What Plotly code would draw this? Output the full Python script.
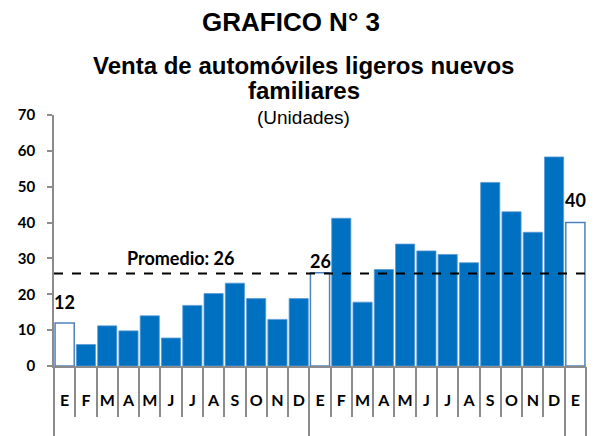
import plotly.graph_objects as go

# ---- data ----
meses = ["E", "F", "M", "A", "M", "J", "J", "A", "S", "O", "N", "D",
         "E", "F", "M", "A", "M", "J", "J", "A", "S", "O", "N", "D",
         "E"]
ventas = [12, 6, 11.2, 9.8, 14, 7.8, 16.9, 20.2, 23.1, 18.8, 13, 18.8,
          26, 41.2, 17.8, 26.9, 34, 32.1, 31.1, 28.8, 51.2, 43, 37.3, 58.3,
          40]
destacados = [0, 12, 24]          # indices of January bars (hollow, labelled)
etiquetas = ["12", "26", "40"]
promedio = 25.8
promedio_txt = "Promedio: 26"
y_ticks = [0, 10, 20, 30, 40, 50, 60, 70]

# ---- geometry helpers (page body has an 8px margin) ----
OFF = 8
W, H = 595 - OFF, 436 - OFF
ML, MR, MT, MB = 54 - OFF, 9, 115 - OFF, 70
PH = H - MT - MB
PW = W - ML - MR


def py2paper(py):          # screenshot y -> paper y
    return (H - MB - (py - OFF)) / PH


def px2paper(px):          # screenshot x -> paper x
    return (px - OFF - ML) / PW


n = len(meses)
xs = list(range(n))
fill = ["#FFFFFF" if i in destacados else "#0070C0" for i in xs]
line_c = ["#4F81BD" if i in destacados else "#5B9BD5" for i in xs]
line_w = [1.5 if i in destacados else 0.8 for i in xs]

GRAY = "#8C8C8C"
LBL = "Lato"
TTL = "Liberation Sans"

fig = go.Figure()
fig.add_trace(go.Bar(
    x=xs, y=ventas, marker=dict(color=fill, line=dict(color=line_c, width=line_w)),
    hoverinfo="skip", showlegend=False))
# helper invisible trace for the group-boundary axis
fig.add_trace(go.Scatter(x=[-0.5, n - 0.5], y=[0, 0], xaxis="x2", mode="lines",
                         line=dict(width=0), hoverinfo="skip", showlegend=False))

# group boundaries (start of each January + ends)
group_bounds = [i - 0.5 for i in destacados] + [n - 0.5]

fig.update_layout(
    width=W, height=H, margin=dict(l=ML, r=MR, t=MT, b=MB, autoexpand=False),
    paper_bgcolor="white", plot_bgcolor="white",
    bargap=0.1,
    xaxis=dict(range=[-0.5, n - 0.5], tickmode="array", tickvals=xs, ticktext=meses,
               ticks="", showgrid=False, zeroline=False, automargin=False,
               showline=True, linecolor=GRAY, linewidth=1.5,
               tickfont=dict(family=LBL, size=16, color="black", weight="bold"),
               ticklabelstandoff=19,
               minor=dict(tickmode="array", tickvals=[i - 0.5 for i in range(n + 1)],
                          ticks="outside", ticklen=49, tickcolor=GRAY, tickwidth=1.5,
                          showgrid=False)),
    xaxis2=dict(range=[-0.5, n - 0.5], overlaying="x", side="bottom", anchor="y",
                tickmode="array", tickvals=group_bounds, ticks="outside", ticklen=80,
                tickcolor=GRAY, tickwidth=1.5, showticklabels=False, automargin=False,
                showgrid=False, zeroline=False, showline=False),
    yaxis=dict(range=[0, 70], tickmode="array", tickvals=y_ticks, automargin=False,
               ticks="outside", ticklen=5, tickcolor=GRAY, tickwidth=1.5,
               showline=True, linecolor=GRAY, linewidth=1.5,
               showgrid=False, zeroline=False, ticklabelstandoff=9,
               tickfont=dict(family=LBL, size=15, color="black", weight="bold")),
    title=dict(text="<b>GRAFICO N° 3</b>", x=(291 - OFF) / W, xanchor="center",
               y=1 - (22 - OFF) / H, yanchor="middle", yref="container",
               font=dict(family=TTL, size=26, color="black")),
)

# average line
fig.add_shape(type="line", xref="paper", yref="y", x0=0, x1=1.01, y0=promedio, y1=promedio,
              line=dict(color="black", width=2, dash="dash"))
fig.add_annotation(x=5.46, y=promedio, xref="x", yref="y", text="<b>" + promedio_txt + "</b>",
                   showarrow=False, yanchor="bottom", yshift=2,
                   font=dict(family=LBL, size=18, color="black"))

# value labels for highlighted bars
shifts = [8, -1, 10]
for i, t, s in zip(destacados, etiquetas, shifts):
    fig.add_annotation(x=i, y=ventas[i], xref="x", yref="y", text="<b>" + t + "</b>",
                       showarrow=False, yanchor="bottom", yshift=s,
                       font=dict(family=LBL, size=18, color="black"))

# subtitles
cx = px2paper(303.5)
fig.add_annotation(x=cx, xref="paper", xanchor="center", y=py2paper(66), yref="paper",
                   yanchor="middle", showarrow=False,
                   text="<b>Venta de automóviles ligeros nuevos</b>",
                   font=dict(family=TTL, size=24, color="black"))
fig.add_annotation(x=cx, xref="paper", xanchor="center", y=py2paper(90), yref="paper",
                   yanchor="middle", showarrow=False, text="<b>familiares</b>",
                   font=dict(family=TTL, size=24, color="black"))
fig.add_annotation(x=cx, xref="paper", xanchor="center", y=py2paper(117), yref="paper",
                   yanchor="middle", showarrow=False, text="(Unidades)",
                   font=dict(family=TTL, size=19, color="black"))

fig.write_html("out.html")
